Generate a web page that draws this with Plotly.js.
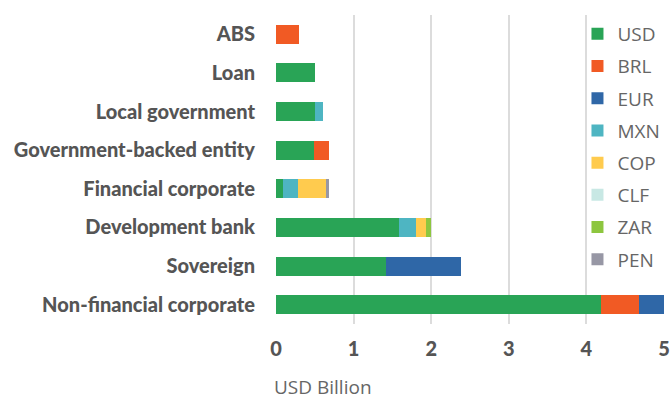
<!DOCTYPE html>
<html>
<head>
<meta charset="utf-8">
<script src="https://cdn.plot.ly/plotly-3.0.1.min.js"></script>
<style>html,body{margin:0;padding:0;background:#fff;}#chart{width:672px;height:401px;}</style>
</head>
<body>
<div id="chart"></div>
<script>
const categories = ["ABS", "Loan", "Local government", "Government-backed entity", "Financial corporate", "Development bank", "Sovereign", "Non-financial corporate"];
const currencies = ["USD", "BRL", "EUR", "MXN", "COP", "CLF", "ZAR", "PEN"];
const USD = [0, 0.50, 0.50, 0.49, 0.09, 1.58, 1.42, 4.19];
const BRL = [0.30, 0, 0, 0.19, 0, 0, 0, 0.49];
const EUR = [0, 0, 0, 0, 0, 0, 0.97, 0.33];
const MXN = [0, 0, 0.11, 0, 0.19, 0.23, 0, 0];
const COP = [0, 0, 0, 0, 0.36, 0.12, 0, 0];
const CLF = [0, 0, 0, 0, 0, 0, 0, 0];
const ZAR = [0, 0, 0, 0, 0, 0.07, 0, 0];
const PEN = [0, 0, 0, 0, 0.04, 0, 0, 0];
const xTicks = [0, 1, 2, 3, 4, 5];

const series = {USD, BRL, EUR, MXN, COP, CLF, ZAR, PEN};
const colors = {USD: "#29a456", BRL: "#f15a24", EUR: "#2f67a7", MXN: "#4eb5c2", COP: "#ffcb4e", CLF: "#c8e8e4", ZAR: "#8dc63f", PEN: "#9797a5"};

const traces = currencies.map(c => ({
  type: "bar",
  orientation: "h",
  name: c,
  legendgroup: c,
  y: categories,
  x: series[c],
  width: 0.49,
  marker: {color: colors[c], line: {width: 0}},
  hoverinfo: "x+name"
}));

const layout = {
  width: 672, height: 401,
  margin: {l: 276, r: 7, t: 15, b: 77, pad: 0},
  barmode: "stack",
  paper_bgcolor: "#fff", plot_bgcolor: "#fff",
  font: {family: "Lato, sans-serif", color: "#555"},
  xaxis: {
    range: [0, 5], tickvals: xTicks, ticktext: xTicks.map(String),
    showgrid: true, gridcolor: "#dcdcdc", gridwidth: 2,
    zeroline: false, showline: false, ticks: "",
    ticklabelstandoff: 11,
    tickfont: {family: "Lato, sans-serif", size: 20, color: "#555", weight: 900},
    fixedrange: true
  },
  yaxis: {
    type: "category", autorange: "reversed",
    showgrid: false, zeroline: false, showline: false, ticks: "",
    ticklabelstandoff: 20,
    tickfont: {family: "Lato, sans-serif", size: 20, color: "#555", weight: 900},
    fixedrange: true
  },
  showlegend: true,
  legend: {
    x: 0.775, xanchor: "left", y: 1.0, yanchor: "top",
    traceorder: "grouped", tracegroupgap: 4.5,
    bgcolor: "rgba(255,255,255,0)", borderwidth: 0,
    font: {family: "Open Sans, sans-serif", size: 19, color: "#666"},
    itemclick: false, itemdoubleclick: false
  },
  annotations: [{
    text: "USD Billion", xref: "paper", yref: "paper",
    x: -0.008, y: -0.205, xanchor: "left", yanchor: "middle", showarrow: false,
    borderpad: 0,
    font: {family: "Open Sans, sans-serif", size: 19, color: "#666"}
  }]
};

Plotly.newPlot("chart", traces, layout, {displayModeBar: false, staticPlot: false});
</script>
</body>
</html>
